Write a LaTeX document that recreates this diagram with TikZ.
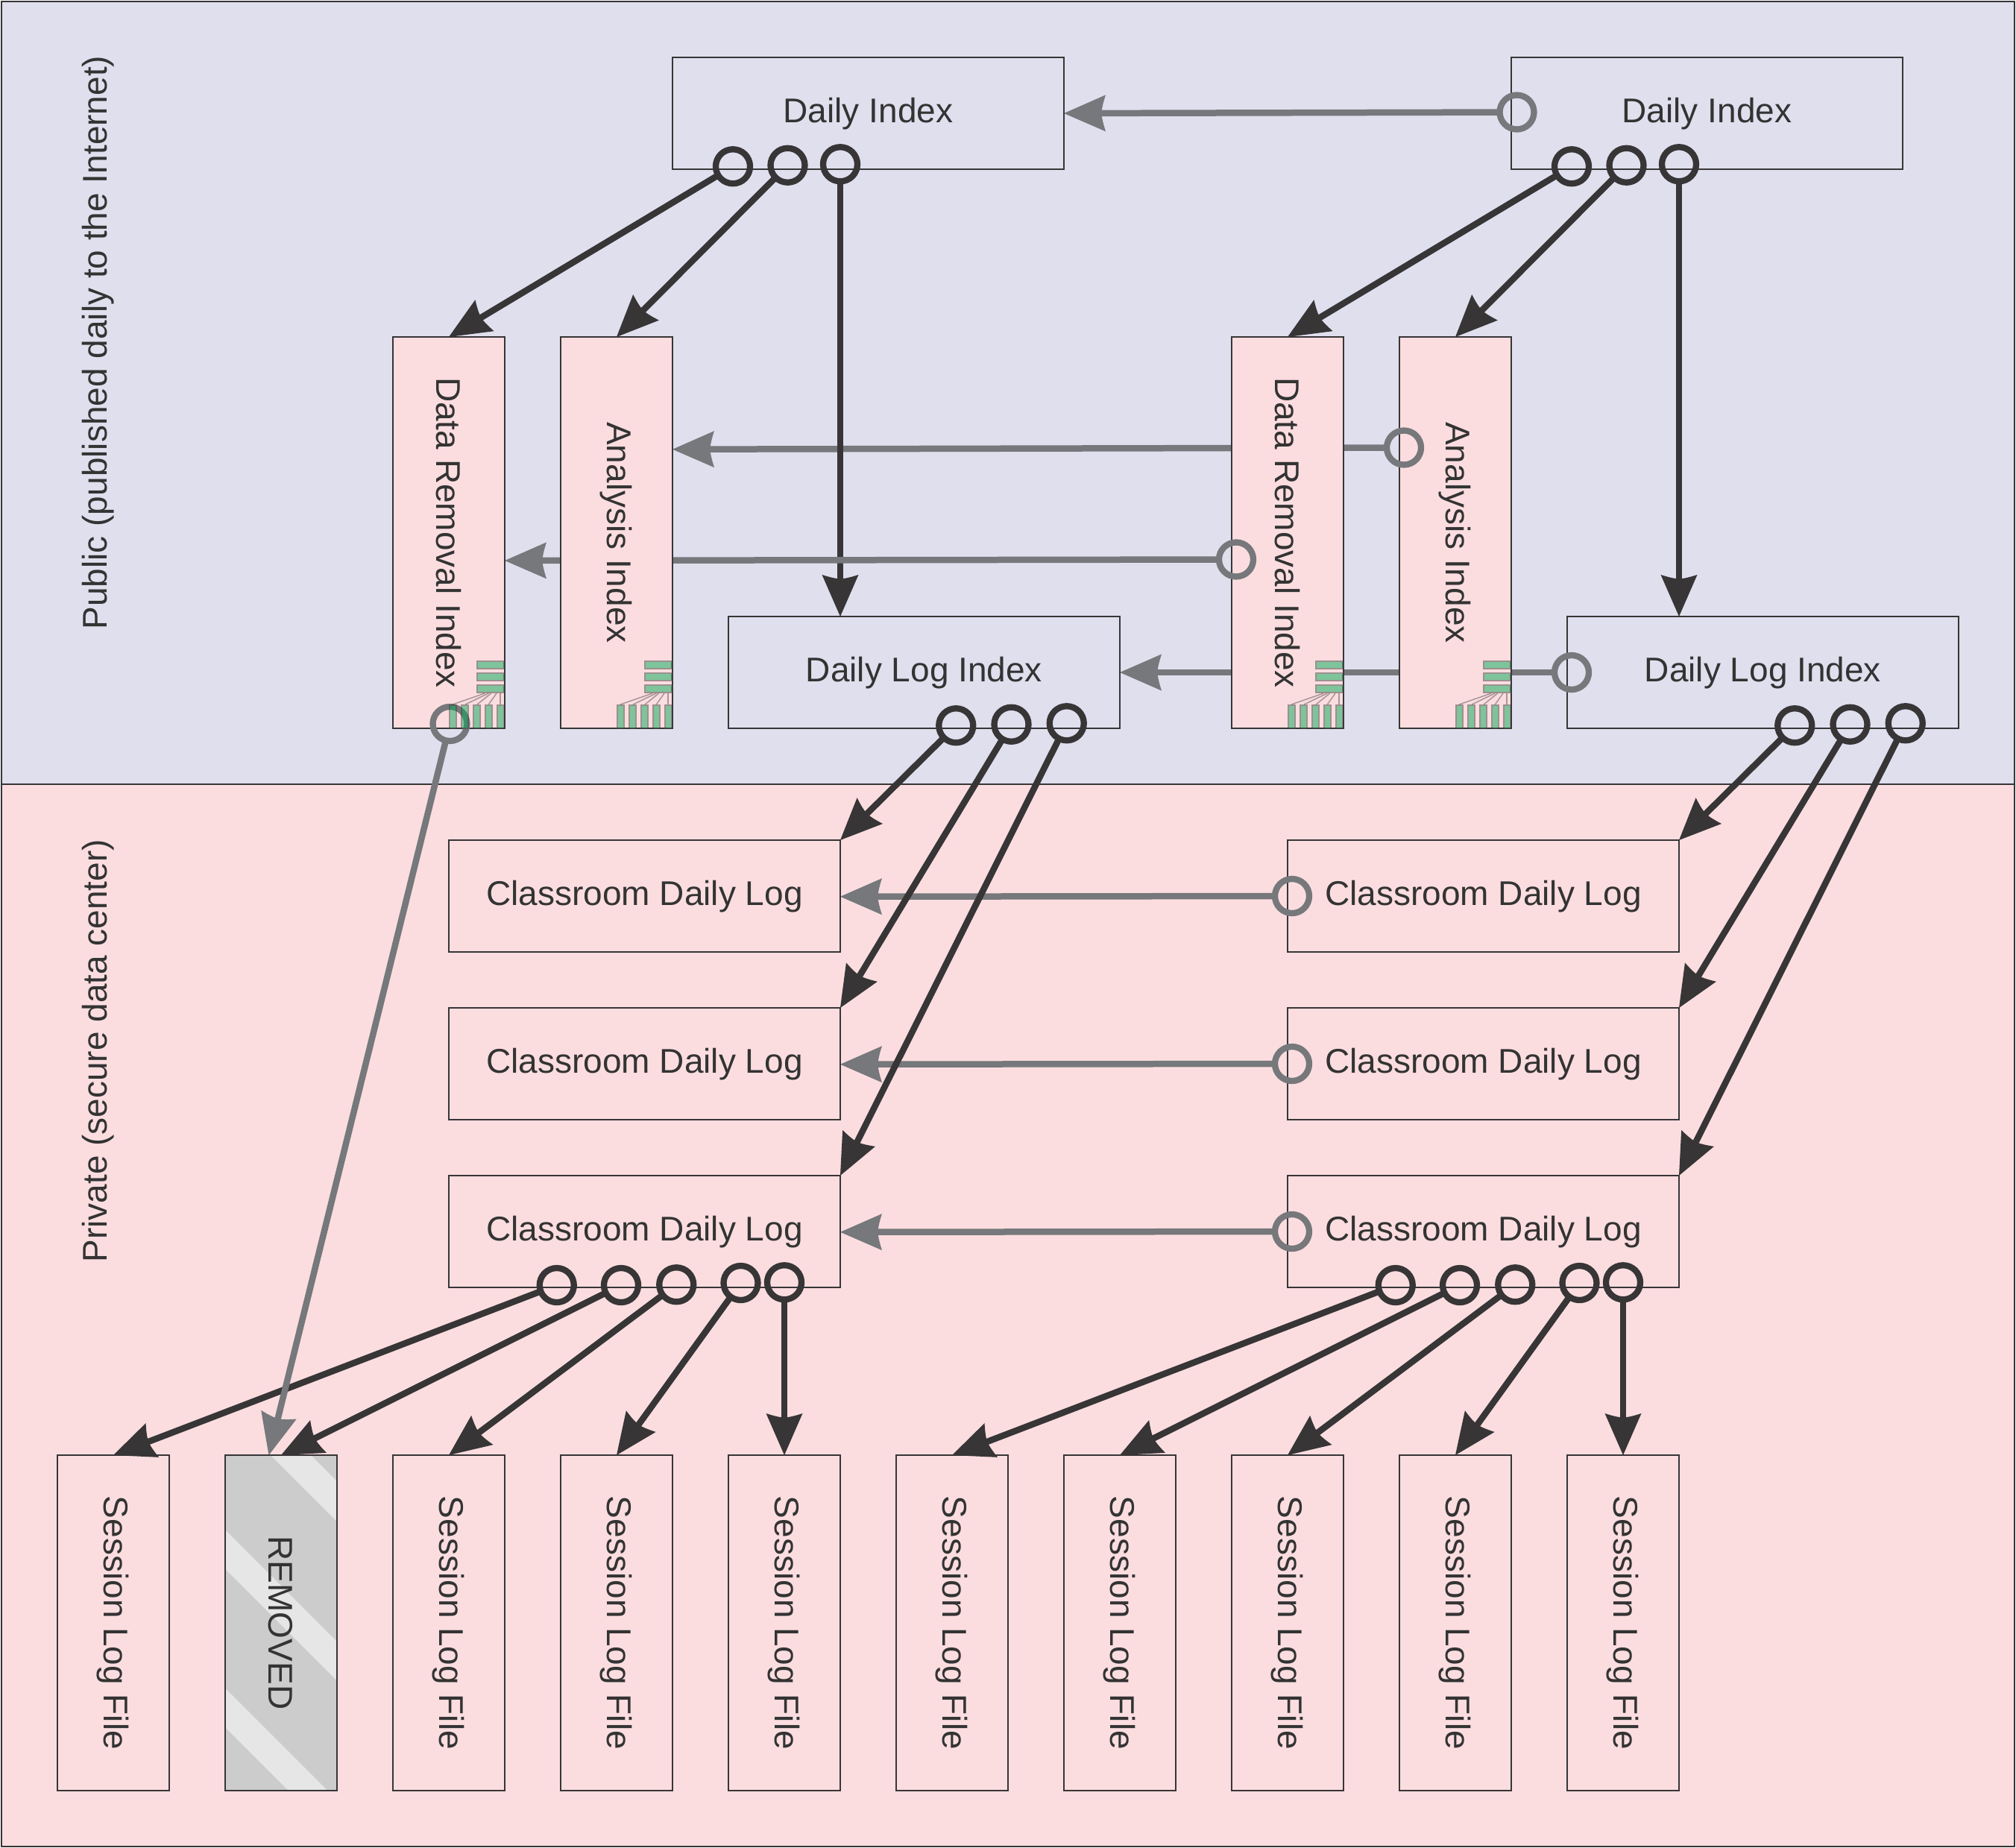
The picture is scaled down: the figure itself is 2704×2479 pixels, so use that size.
\documentclass[tikz,border=0pt]{standalone}
\usepackage{fontspec}
\setmainfont{Liberation Sans}
\definecolor{dk}{HTML}{373536}
\definecolor{gy}{HTML}{76787B}
\definecolor{txt}{HTML}{333333}
\definecolor{lav}{HTML}{E0DFEE}
\definecolor{pk}{HTML}{FBDDE0}
\definecolor{grn}{HTML}{00AC56}
\definecolor{tst}{HTML}{414340}
\definecolor{rmv}{HTML}{CCCCCC}
\definecolor{rmvs}{HTML}{E6E6E6}
\pgfdeclarelayer{bands}
\pgfdeclarelayer{greya}
\pgfdeclarelayer{darkl}
\pgfdeclarelayer{greyb}
\pgfdeclarelayer{top}
\pgfsetlayers{bands,greya,darkl,greyb,main,top}
\pgfdeclarearrow{
  name=Barb,
  setup code={
    \pgfarrowssettipend{0pt}
    \pgfarrowssetlineend{-48pt}
    \pgfarrowssetvisualbackend{-50.6pt}
    \pgfarrowssetbackend{-56pt}
    \pgfarrowshullpoint{0pt}{0pt}
    \pgfarrowshullpoint{-56pt}{24.5pt}
    \pgfarrowshullpoint{-56pt}{-24.5pt}
  },
  drawing code={
    \pgfpathmoveto{\pgfqpoint{0pt}{0pt}}
    \pgfpathlineto{\pgfqpoint{-56pt}{24.5pt}}
    \pgfpathcurveto{\pgfqpoint{-52pt}{12pt}}{\pgfqpoint{-50.6pt}{5pt}}{\pgfqpoint{-50.6pt}{0pt}}
    \pgfpathcurveto{\pgfqpoint{-50.6pt}{-5pt}}{\pgfqpoint{-52pt}{-12pt}}{\pgfqpoint{-56pt}{-24.5pt}}
    \pgfpathclose
    \pgfusepathqfill
  }
}
% capbox: texts with descenders sit a little higher; capflat: texts without them
\newcommand\capbox[1]{\rule{0pt}{0.716em}\smash{\raisebox{0.085em}{#1}}}
\newcommand\capflat[1]{\rule{0pt}{0.716em}\smash{#1}}
\newcommand\downtext[1]{\rotatebox{-90}{\capbox{#1}}}
\newcommand\downflat[1]{\rotatebox{-90}{\capflat{#1}}}
\newcommand\uptext[1]{\rotatebox{90}{\capbox{#1}}}
\newcommand\treeicon[1]{%
  \begin{scope}[shift={(#1.south east)},x=1pt,y=1pt]
    \foreach \yy in {80,64,48} {
      \path[treefill] (-36,\yy+1) rectangle (-1,\yy+9);
      \path[treestroke] (-37,\yy) rectangle (-0.5,\yy+10);
    }
    \foreach \xx in {-75,-59,-43,-27,-11} {
      \path[treefill] (\xx+2,0) rectangle (\xx+9,30);
      \path[treestroke] (\xx+1,0) rectangle (\xx+10,31);
    }
    \draw[treeline] (-26.7,47) -- (-70,32);
    \draw[treeline] (-21.7,47) -- (-53,32);
    \draw[treeline] (-18.3,47) -- (-37,32);
    \draw[treeline] (-11,47) -- (-21.7,32);
    \draw[treeline] (-6,47) -- (-6,32);
  \end{scope}}
\tikzset{
  basebox/.style={draw=dk,line width=2pt,inner sep=0pt,outer sep=0pt,text=txt},
  widebox/.style={basebox,minimum width=525pt,minimum height=150pt},
  tallbox/.style={basebox,fill=pk,minimum width=150pt,minimum height=525pt},
  filebox/.style={basebox,fill=none,minimum width=150pt,minimum height=450pt},
  band/.style={draw=dk,line width=2pt,inner sep=0pt,outer sep=0pt,minimum width=2700pt},
  ring/.style={circle,draw=#1,line width=8.3pt,minimum size=46pt,inner sep=0pt,outer sep=0pt},
  darkarrow/.style={draw=dk,line width=8.5pt,-Barb},
  greyarrow/.style={draw=gy,line width=8.5pt,-Barb},
  treefill/.style={fill=grn,fill opacity=.5},
  treestroke/.style={draw=tst,draw opacity=.5,line width=2.2pt},
  treeline/.style={draw=txt,draw opacity=.42,line width=1.5pt},
  sidelabel/.style={text=txt,inner sep=0pt}
}
\begin{document}
\begin{tikzpicture}[x=75pt,y=-75pt,font=\fontsize{46}{50}\selectfont]
\useasboundingbox (-2pt,2pt) rectangle (2702pt,-2477pt);
\begin{pgfonlayer}{bands}
  \node[band,fill=lav,minimum height=1050pt] (pub) at (18,7) {};
  \node[band,fill=pk,minimum height=1425pt] (priv) at (18,23.5) {};
\end{pgfonlayer}
\node[sidelabel] (publabel) at (1.72,6.1) {\uptext{Public (published daily to the Internet)}};
\node[sidelabel] (privlabel) at (1.72,18.77) {\uptext{Private (secure data center)}};
% index boxes
\node[widebox] (diL) at (15.5,2) {\capbox{Daily Index}};
\node[widebox] (diR) at (30.5,2) {\capbox{Daily Index}};
\node[tallbox] (drL) at (8,9.5) {\raisebox{2pt}{\downflat{Data Removal Index}}};
\node[tallbox] (anL) at (11,9.5) {\downtext{Analysis Index}};
\node[tallbox] (drR) at (23,9.5) {\raisebox{2pt}{\downflat{Data Removal Index}}};
\node[tallbox] (anR) at (26,9.5) {\downtext{Analysis Index}};
\node[widebox] (dlL) at (16.5,12) {\capbox{Daily Log Index}};
\node[widebox] (dlR) at (31.5,12) {\capbox{Daily Log Index}};
% classroom
\node[widebox] (clA) at (11.5,16) {\capbox{Classroom Daily Log}};
\node[widebox] (clB) at (11.5,19) {\capbox{Classroom Daily Log}};
\node[widebox] (clC) at (11.5,22) {\capbox{Classroom Daily Log}};
\node[widebox] (crA) at (26.5,16) {\capbox{Classroom Daily Log}};
\node[widebox] (crB) at (26.5,19) {\capbox{Classroom Daily Log}};
\node[widebox] (crC) at (26.5,22) {\capbox{Classroom Daily Log}};
% session files
\node[filebox] (sA) at (2,29) {\downtext{Session Log File}};
\begin{scope}[shift={(4,26)},x=1pt,y=-1pt]
  \clip (0,0) rectangle (150,450);
  \fill[rmv] (0,0) rectangle (150,450);
  \fill[rmvs] (0,-115) -- (150,35) -- (150,89) -- (0,-61) -- cycle;
  \fill[rmvs] (0,100) -- (150,250) -- (150,302.5) -- (0,152.5) -- cycle;
  \fill[rmvs] (0,312.5) -- (150,462.5) -- (150,515) -- (0,365) -- cycle;
\end{scope}
\node[filebox] (sB) at (5,29) {\raisebox{1pt}{\downflat{REMOVED}}};
\node[filebox] (sC) at (8,29) {\downtext{Session Log File}};
\node[filebox] (sD) at (11,29) {\downtext{Session Log File}};
\node[filebox] (sE) at (14,29) {\downtext{Session Log File}};
\node[filebox] (sF) at (17,29) {\downtext{Session Log File}};
\node[filebox] (sG) at (20,29) {\downtext{Session Log File}};
\node[filebox] (sH) at (23,29) {\downtext{Session Log File}};
\node[filebox] (sI) at (26,29) {\downtext{Session Log File}};
\node[filebox] (sJ) at (29,29) {\downtext{Session Log File}};
% target points
\coordinate (tAnL) at (12,8.01);
\coordinate (tDrL) at (9,10);
\coordinate (tDlL) at (15,11);
\coordinate (tDlR) at (30,11);
\coordinate (tRem) at (4.78,26);
\coordinate (tClA) at (15,16.01);
\coordinate (tClB) at (15,19.01);
\coordinate (tClC) at (15,22.01);
\begin{pgfonlayer}{top}
  \foreach \nm/\px/\py in {a1/13.08/2.95,a2/14.06/2.93,a3/15/2.91,
      b1/28.08/2.95,b2/29.06/2.93,b3/30/2.91,
      c1/17.07/12.95,c2/18.06/12.93,c3/19.05/12.91,
      d1/32.07/12.95,d2/33.06/12.93,d3/34.05/12.91,
      e1/9.93/22.96,e2/11.08/22.96,e3/12.07/22.95,e4/13.22/22.92,e5/14/22.91,
      f1/24.93/22.96,f2/26.08/22.96,f3/27.07/22.95,f4/28.22/22.92,f5/29/22.91}
    \node[ring=dk] (\nm) at (\px,\py) {};
  \foreach \nm/\px/\py in {g1/27.1/1.98,g2/25.08/7.98,g3/22.08/9.98,g4/28.08/12,
      g5/23.08/16,g6/23.08/19,g7/23.08/22,g8/8.02/12.92}
    \node[ring=gy] (\nm) at (\px,\py) {};
  \treeicon{drL}
  \treeicon{anL}
  \treeicon{drR}
  \treeicon{anR}
\end{pgfonlayer}
\begin{pgfonlayer}{greya}
  \draw[greyarrow] (g1) -- (diL.east);
  \draw[greyarrow] (g2) -- (tAnL);
  \draw[greyarrow] (g5) -- (tClA);
  \draw[greyarrow] (g6) -- (tClB);
  \draw[greyarrow] (g7) -- (tClC);
\end{pgfonlayer}
\begin{pgfonlayer}{darkl}
  \draw[darkarrow] (a1) -- (drL.north);
  \draw[darkarrow] (a2) -- (anL.north);
  \draw[darkarrow] (a3) -- (tDlL);
  \draw[darkarrow] (b1) -- (drR.north);
  \draw[darkarrow] (b2) -- (anR.north);
  \draw[darkarrow] (b3) -- (tDlR);
  \draw[darkarrow] (c1) -- (clA.north east);
  \draw[darkarrow] (c2) -- (clB.north east);
  \draw[darkarrow] (c3) -- (clC.north east);
  \draw[darkarrow] (d1) -- (crA.north east);
  \draw[darkarrow] (d2) -- (crB.north east);
  \draw[darkarrow] (d3) -- (crC.north east);
  \draw[darkarrow] (e1) -- (sA.north);
  \draw[darkarrow] (e2) -- (sB.north);
  \draw[darkarrow] (e3) -- (sC.north);
  \draw[darkarrow] (e4) -- (sD.north);
  \draw[darkarrow] (e5) -- (sE.north);
  \draw[darkarrow] (f1) -- (sF.north);
  \draw[darkarrow] (f2) -- (sG.north);
  \draw[darkarrow] (f3) -- (sH.north);
  \draw[darkarrow] (f4) -- (sI.north);
  \draw[darkarrow] (f5) -- (sJ.north);
\end{pgfonlayer}
\begin{pgfonlayer}{greyb}
  \draw[greyarrow] (g3) -- (tDrL);
  \draw[greyarrow] (g4) -- (dlL.east);
  \draw[greyarrow] (g8) -- (tRem);
\end{pgfonlayer}
\end{tikzpicture}
\end{document}
